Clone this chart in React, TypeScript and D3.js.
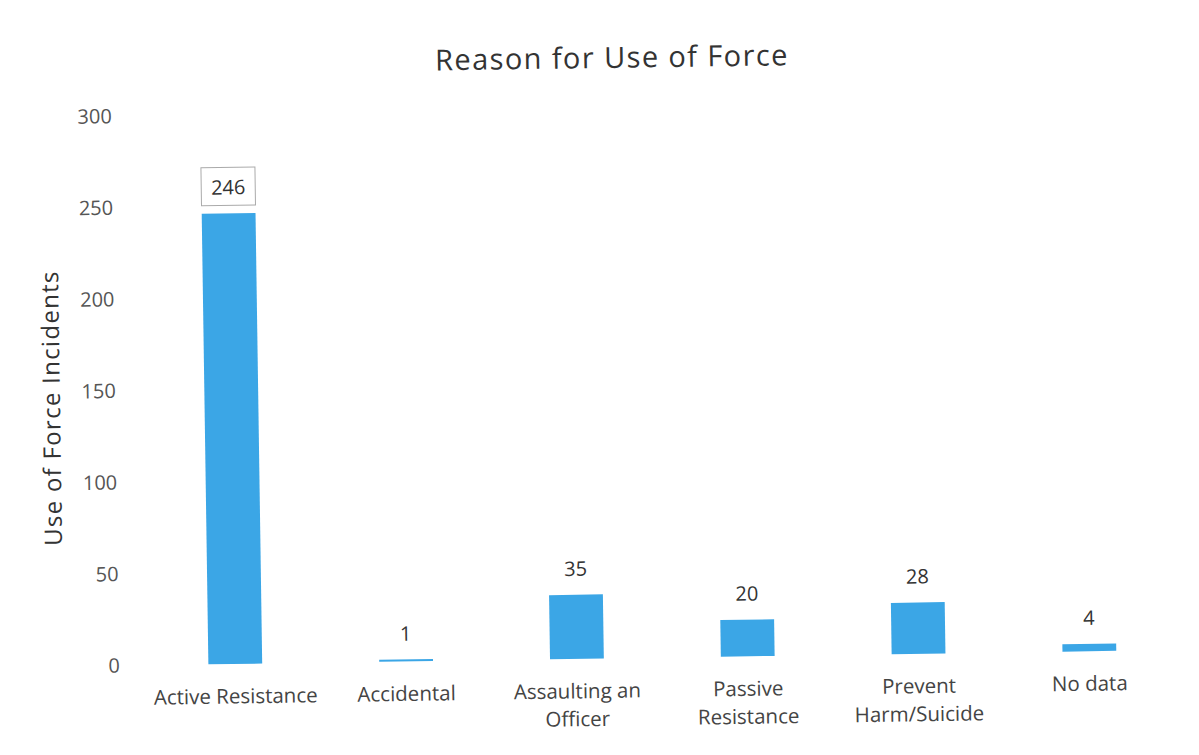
import React, { useEffect } from "react";
import * as d3 from "d3";

const categories: string[][] = [
  ["Active Resistance"],
  ["Accidental"],
  ["Assaulting an", "Officer"],
  ["Passive", "Resistance"],
  ["Prevent", "Harm/Suicide"],
  ["No data"],
];
const values: number[] = [246, 1, 35, 20, 28, 4];
const yTicks: number[] = [0, 50, 100, 150, 200, 250, 300];
const boxedIndex: number[] = [0];
const title = "Reason for Use of Force";
const yTitle = "Use of Force Incidents";

const W = 1199;
const H = 755;
const FONT = "'Open Sans', Lato, sans-serif";

export default function App() {
  useEffect(() => {
    document.body.style.margin = "0";
  }, []);

  const x = d3
    .scaleBand<number>()
    .domain(values.map((_, i) => i))
    .range([146, 1171])
    .paddingInner(0.685)
    .paddingOuter(0.3425);
  const y = d3.scaleLinear().domain([0, 300]).range([658.5, 109]);
  const bw = x.bandwidth();

  return (
    <svg width={W} height={H} style={{ display: "block", background: "#fff" }}>
      <g transform={`rotate(-0.85 600 400)`}>
        <text
          x={617}
          y={68}
          textAnchor="middle"
          fontFamily={FONT}
          fontSize={29}
          letterSpacing={1.4}
          fill="#333"
        >
          {title}
        </text>
        <text
          transform={`translate(60 ${400}) rotate(-90)`}
          textAnchor="middle"
          fontFamily={FONT}
          fontSize={24}
          letterSpacing={1.3}
          fill="#333"
        >
          {yTitle}
        </text>
        {yTicks.map((t) => (
          <text
            key={t}
            x={116}
            y={y(t) + 7}
            textAnchor="end"
            fontFamily={FONT}
            fontSize={20}
            fill="#555"
          >
            {t}
          </text>
        ))}
        {values.map((v, i) => {
          const cx = (x(i) as number) + bw / 2;
          const top = y(v);
          const h = Math.max(y(0) - y(v), 2);
          return (
            <g key={i}>
              <rect x={x(i)} y={y(0) - h} width={bw} height={h} fill="#3ba6e6" />
              {boxedIndex.includes(i) && (
                <rect
                  x={cx - 27}
                  y={top - 46}
                  width={54}
                  height={38}
                  fill="#fff"
                  stroke="#aaa"
                  strokeWidth={1}
                />
              )}
              <text
                x={cx}
                y={top - 19}
                textAnchor="middle"
                fontFamily={FONT}
                fontSize={20}
                fill="#333"
              >
                {v}
              </text>
              {categories[i].map((line, k) => (
                <text
                  key={k}
                  x={cx}
                  y={698 + k * 28}
                  textAnchor="middle"
                  fontFamily={FONT}
                  fontSize={20.5}
                  fill="#444"
                >
                  {line}
                </text>
              ))}
            </g>
          );
        })}
      </g>
    </svg>
  );
}
